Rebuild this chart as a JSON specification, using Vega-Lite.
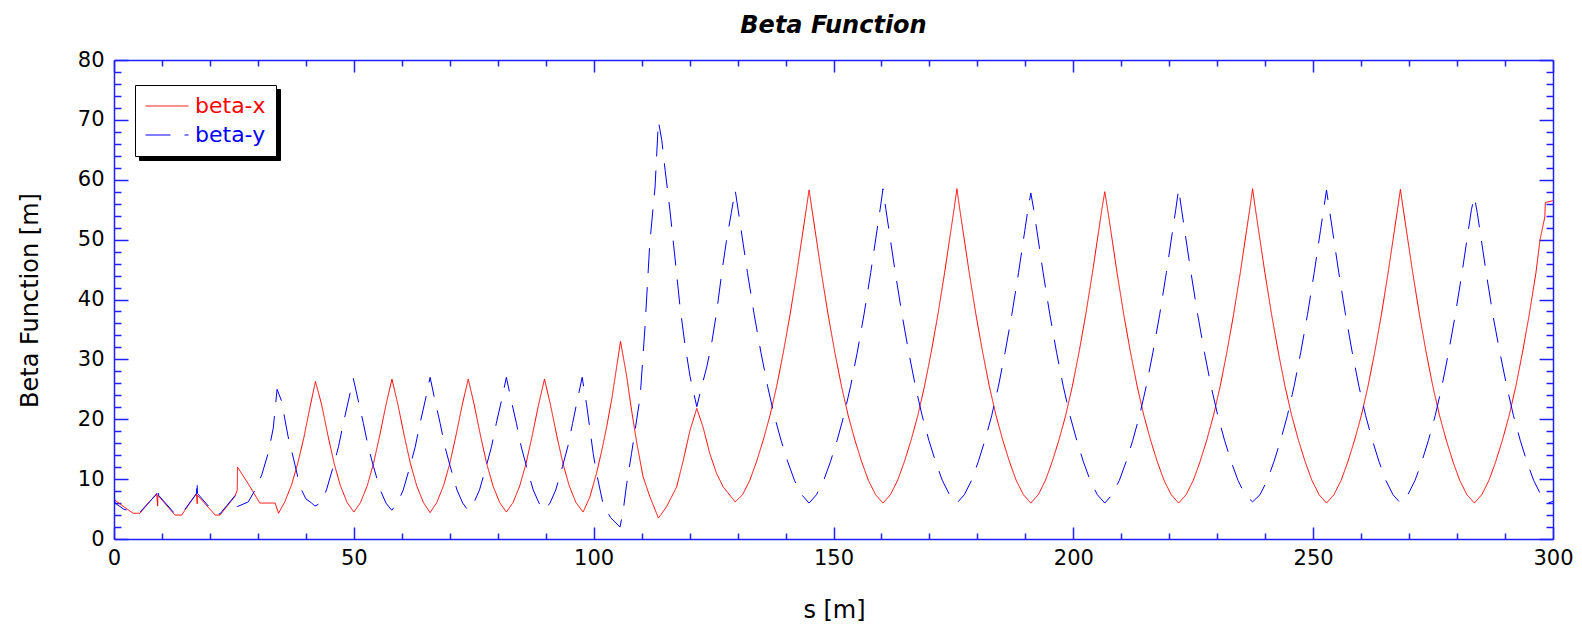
{
  "$schema": "https://vega.github.io/schema/vega-lite/v6.json",
  "width": 1439,
  "height": 479,
  "autosize": {"type": "none"},
  "padding": {"left": 114, "top": 60, "right": 29, "bottom": 88},
  "background": "white",
  "config": {
    "view": {"stroke": null},
    "font": "DejaVu Sans",
    "scale": {"continuousPadding": 0},
    "axis": {"grid": false, "labelFlush": false, "domainColor": "#2020ff", "tickColor": "#2020ff", "domainWidth": 1.5, "tickWidth": 1.5, "labelFont": "DejaVu Sans", "labelFontSize": 21, "labelColor": "#000000", "titleFont": "DejaVu Sans", "titleFontSize": 24, "titleFontWeight": "normal", "titleColor": "#000000"}
  },
  "title": {"text": "Beta Function", "font": "DejaVu Sans", "fontSize": 24, "fontWeight": "bold", "fontStyle": "italic", "color": "#000000", "anchor": "middle", "baseline": "middle", "offset": -1},
  "data": {"values": [
    {"series":"beta-x","s":0,"b":6.6},{"series":"beta-x","s":2,"b":5.4},{"series":"beta-x","s":4,"b":4.3},{"series":"beta-x","s":5.4,"b":4.3},{"series":"beta-x","s":8.9,"b":7.6},{"series":"beta-x","s":9.1,"b":5.5},{"series":"beta-x","s":9.15,"b":7.3},{"series":"beta-x","s":12.7,"b":4.0},{"series":"beta-x","s":14.1,"b":4.0},{"series":"beta-x","s":17.2,"b":7.6},{"series":"beta-x","s":17.35,"b":5.9},{"series":"beta-x","s":17.4,"b":7.3},{"series":"beta-x","s":21.1,"b":4.0},{"series":"beta-x","s":22.1,"b":4.0},{"series":"beta-x","s":25.2,"b":7.1},{"series":"beta-x","s":25.7,"b":8.2},{"series":"beta-x","s":25.75,"b":12.0},{"series":"beta-x","s":28.0,"b":9.2},{"series":"beta-x","s":30.4,"b":6.0},{"series":"beta-x","s":33.6,"b":6.0},{"series":"beta-x","s":34.3,"b":4.3},
    {"series":"beta-x","s":35.6,"b":6.2},{"series":"beta-x","s":37.0,"b":9.0},{"series":"beta-x","s":38.3,"b":12.6},{"series":"beta-x","s":39.6,"b":17.0},{"series":"beta-x","s":40.8,"b":21.8},{"series":"beta-x","s":42.0,"b":26.3},{"series":"beta-x","s":43.3,"b":22.4},{"series":"beta-x","s":44.6,"b":17.3},{"series":"beta-x","s":45.9,"b":12.6},{"series":"beta-x","s":47.2,"b":8.9},{"series":"beta-x","s":48.6,"b":6.1},{"series":"beta-x","s":50.0,"b":4.5},
    {"series":"beta-x","s":51.4,"b":6.1},{"series":"beta-x","s":52.8,"b":8.9},{"series":"beta-x","s":54.1,"b":12.6},{"series":"beta-x","s":55.4,"b":17.3},{"series":"beta-x","s":56.7,"b":22.4},{"series":"beta-x","s":57.95,"b":26.7},{"series":"beta-x","s":59.2,"b":22.4},{"series":"beta-x","s":60.5,"b":17.3},{"series":"beta-x","s":61.8,"b":12.6},{"series":"beta-x","s":63.1,"b":8.9},{"series":"beta-x","s":64.5,"b":6.1},{"series":"beta-x","s":65.9,"b":4.4},
    {"series":"beta-x","s":67.3,"b":6.1},{"series":"beta-x","s":68.7,"b":8.9},{"series":"beta-x","s":70.0,"b":12.6},{"series":"beta-x","s":71.3,"b":17.3},{"series":"beta-x","s":72.6,"b":22.4},{"series":"beta-x","s":73.85,"b":26.7},{"series":"beta-x","s":75.1,"b":22.4},{"series":"beta-x","s":76.4,"b":17.3},{"series":"beta-x","s":77.7,"b":12.6},{"series":"beta-x","s":79.0,"b":8.9},{"series":"beta-x","s":80.4,"b":6.1},{"series":"beta-x","s":81.8,"b":4.5},
    {"series":"beta-x","s":83.2,"b":6.1},{"series":"beta-x","s":84.6,"b":8.9},{"series":"beta-x","s":85.9,"b":12.6},{"series":"beta-x","s":87.2,"b":17.3},{"series":"beta-x","s":88.5,"b":22.4},{"series":"beta-x","s":89.75,"b":26.7},{"series":"beta-x","s":91.0,"b":22.4},{"series":"beta-x","s":92.3,"b":17.3},{"series":"beta-x","s":93.6,"b":12.6},{"series":"beta-x","s":94.9,"b":8.9},{"series":"beta-x","s":96.3,"b":6.1},{"series":"beta-x","s":97.8,"b":4.5},
    {"series":"beta-x","s":99.2,"b":7.0},{"series":"beta-x","s":100.6,"b":11.0},{"series":"beta-x","s":101.7,"b":14.8},{"series":"beta-x","s":102.7,"b":18.7},{"series":"beta-x","s":103.8,"b":23.5},{"series":"beta-x","s":104.8,"b":28.8},{"series":"beta-x","s":105.6,"b":33.0},{"series":"beta-x","s":106.9,"b":27.1},{"series":"beta-x","s":107.9,"b":21.5},{"series":"beta-x","s":109.0,"b":16.0},{"series":"beta-x","s":110.3,"b":10.4},{"series":"beta-x","s":111.7,"b":7.1},{"series":"beta-x","s":113.5,"b":3.5},
    {"series":"beta-x","s":115.2,"b":5.4},{"series":"beta-x","s":117.3,"b":8.7},{"series":"beta-x","s":118.7,"b":13.2},{"series":"beta-x","s":120.1,"b":18.2},{"series":"beta-x","s":121.5,"b":21.8},{"series":"beta-x","s":122.8,"b":18.7},{"series":"beta-x","s":124.2,"b":14.3},{"series":"beta-x","s":125.6,"b":11.0},{"series":"beta-x","s":127.0,"b":8.7},{"series":"beta-x","s":129.5,"b":6.2},
    {"series":"beta-x","s":131.05,"b":7.4},{"series":"beta-x","s":132.55,"b":9.8},{"series":"beta-x","s":133.95,"b":12.9},{"series":"beta-x","s":135.35,"b":16.5},{"series":"beta-x","s":136.75,"b":20.6},{"series":"beta-x","s":138.15,"b":25.5},{"series":"beta-x","s":139.55,"b":31.2},{"series":"beta-x","s":140.95,"b":37.5},{"series":"beta-x","s":142.35,"b":44.5},{"series":"beta-x","s":143.65,"b":51.5},{"series":"beta-x","s":144.3,"b":55.0},{"series":"beta-x","s":144.91,"b":58.3},
    {"series":"beta-x","s":145.52,"b":55.0},{"series":"beta-x","s":146.17,"b":51.5},{"series":"beta-x","s":147.47,"b":44.5},{"series":"beta-x","s":148.87,"b":37.5},{"series":"beta-x","s":150.27,"b":31.2},{"series":"beta-x","s":151.67,"b":25.5},{"series":"beta-x","s":153.07,"b":20.6},{"series":"beta-x","s":154.47,"b":16.5},{"series":"beta-x","s":155.87,"b":12.9},{"series":"beta-x","s":157.27,"b":9.8},{"series":"beta-x","s":158.77,"b":7.4},{"series":"beta-x","s":160.32,"b":6.0},
    {"series":"beta-x","s":161.87,"b":7.4},{"series":"beta-x","s":163.37,"b":9.8},{"series":"beta-x","s":164.77,"b":12.9},{"series":"beta-x","s":166.17,"b":16.5},{"series":"beta-x","s":167.57,"b":20.6},{"series":"beta-x","s":168.97,"b":25.5},{"series":"beta-x","s":170.37,"b":31.2},{"series":"beta-x","s":171.77,"b":37.5},{"series":"beta-x","s":173.17,"b":44.5},{"series":"beta-x","s":174.47,"b":51.5},{"series":"beta-x","s":175.12,"b":55.0},{"series":"beta-x","s":175.73,"b":58.5},
    {"series":"beta-x","s":176.34,"b":55.0},{"series":"beta-x","s":176.99,"b":51.5},{"series":"beta-x","s":178.29,"b":44.5},{"series":"beta-x","s":179.69,"b":37.5},{"series":"beta-x","s":181.09,"b":31.2},{"series":"beta-x","s":182.49,"b":25.5},{"series":"beta-x","s":183.89,"b":20.6},{"series":"beta-x","s":185.29,"b":16.5},{"series":"beta-x","s":186.69,"b":12.9},{"series":"beta-x","s":188.09,"b":9.8},{"series":"beta-x","s":189.59,"b":7.4},{"series":"beta-x","s":191.14,"b":6.0},
    {"series":"beta-x","s":192.69,"b":7.4},{"series":"beta-x","s":194.19,"b":9.8},{"series":"beta-x","s":195.59,"b":12.9},{"series":"beta-x","s":196.99,"b":16.5},{"series":"beta-x","s":198.39,"b":20.6},{"series":"beta-x","s":199.79,"b":25.5},{"series":"beta-x","s":201.19,"b":31.2},{"series":"beta-x","s":202.59,"b":37.5},{"series":"beta-x","s":203.99,"b":44.5},{"series":"beta-x","s":205.29,"b":51.5},{"series":"beta-x","s":205.94,"b":55.0},{"series":"beta-x","s":206.55,"b":58.0},
    {"series":"beta-x","s":207.16,"b":55.0},{"series":"beta-x","s":207.81,"b":51.5},{"series":"beta-x","s":209.11,"b":44.5},{"series":"beta-x","s":210.51,"b":37.5},{"series":"beta-x","s":211.91,"b":31.2},{"series":"beta-x","s":213.31,"b":25.5},{"series":"beta-x","s":214.71,"b":20.6},{"series":"beta-x","s":216.11,"b":16.5},{"series":"beta-x","s":217.51,"b":12.9},{"series":"beta-x","s":218.91,"b":9.8},{"series":"beta-x","s":220.41,"b":7.4},{"series":"beta-x","s":221.96,"b":6.0},
    {"series":"beta-x","s":223.51,"b":7.4},{"series":"beta-x","s":225.01,"b":9.8},{"series":"beta-x","s":226.41,"b":12.9},{"series":"beta-x","s":227.81,"b":16.5},{"series":"beta-x","s":229.21,"b":20.6},{"series":"beta-x","s":230.61,"b":25.5},{"series":"beta-x","s":232.01,"b":31.2},{"series":"beta-x","s":233.41,"b":37.5},{"series":"beta-x","s":234.81,"b":44.5},{"series":"beta-x","s":236.11,"b":51.5},{"series":"beta-x","s":236.76,"b":55.0},{"series":"beta-x","s":237.37,"b":58.5},
    {"series":"beta-x","s":237.98,"b":55.0},{"series":"beta-x","s":238.63,"b":51.5},{"series":"beta-x","s":239.93,"b":44.5},{"series":"beta-x","s":241.33,"b":37.5},{"series":"beta-x","s":242.73,"b":31.2},{"series":"beta-x","s":244.13,"b":25.5},{"series":"beta-x","s":245.53,"b":20.6},{"series":"beta-x","s":246.93,"b":16.5},{"series":"beta-x","s":248.33,"b":12.9},{"series":"beta-x","s":249.73,"b":9.8},{"series":"beta-x","s":251.23,"b":7.4},{"series":"beta-x","s":252.78,"b":6.0},
    {"series":"beta-x","s":254.33,"b":7.4},{"series":"beta-x","s":255.83,"b":9.8},{"series":"beta-x","s":257.23,"b":12.9},{"series":"beta-x","s":258.63,"b":16.5},{"series":"beta-x","s":260.03,"b":20.6},{"series":"beta-x","s":261.43,"b":25.5},{"series":"beta-x","s":262.83,"b":31.2},{"series":"beta-x","s":264.23,"b":37.5},{"series":"beta-x","s":265.63,"b":44.5},{"series":"beta-x","s":266.93,"b":51.5},{"series":"beta-x","s":267.58,"b":55.0},{"series":"beta-x","s":268.19,"b":58.4},
    {"series":"beta-x","s":268.8,"b":55.0},{"series":"beta-x","s":269.45,"b":51.5},{"series":"beta-x","s":270.75,"b":44.5},{"series":"beta-x","s":272.15,"b":37.5},{"series":"beta-x","s":273.55,"b":31.2},{"series":"beta-x","s":274.95,"b":25.5},{"series":"beta-x","s":276.35,"b":20.6},{"series":"beta-x","s":277.75,"b":16.5},{"series":"beta-x","s":279.15,"b":12.9},{"series":"beta-x","s":280.55,"b":9.8},{"series":"beta-x","s":282.05,"b":7.4},{"series":"beta-x","s":283.6,"b":6.0},
    {"series":"beta-x","s":285.15,"b":7.4},{"series":"beta-x","s":286.65,"b":9.8},{"series":"beta-x","s":288.05,"b":12.9},{"series":"beta-x","s":289.45,"b":16.5},{"series":"beta-x","s":290.85,"b":20.6},{"series":"beta-x","s":292.25,"b":25.5},{"series":"beta-x","s":293.65,"b":31.2},{"series":"beta-x","s":295.05,"b":37.5},{"series":"beta-x","s":296.45,"b":44.5},{"series":"beta-x","s":297.3,"b":50.0},{"series":"beta-x","s":298.3,"b":53.8},{"series":"beta-x","s":298.4,"b":56.2},{"series":"beta-x","s":300,"b":56.5},

    {"series":"beta-y","s":0,"b":7.9},{"series":"beta-y","s":0.2,"b":6.0},{"series":"beta-y","s":2.0,"b":5.0},{"series":"beta-y","s":4.0,"b":4.5},{"series":"beta-y","s":5.4,"b":4.5},{"series":"beta-y","s":8.9,"b":7.5},{"series":"beta-y","s":9.2,"b":8.8},{"series":"beta-y","s":9.3,"b":7.3},{"series":"beta-y","s":12.7,"b":4.2},{"series":"beta-y","s":14.1,"b":4.2},{"series":"beta-y","s":17.2,"b":7.6},{"series":"beta-y","s":17.3,"b":9.9},{"series":"beta-y","s":17.4,"b":7.6},{"series":"beta-y","s":21.1,"b":4.2},{"series":"beta-y","s":22.1,"b":4.2},{"series":"beta-y","s":25.5,"b":7.5},{"series":"beta-y","s":25.7,"b":5.4},
    {"series":"beta-y","s":28.0,"b":6.2},{"series":"beta-y","s":29.5,"b":8.3},{"series":"beta-y","s":30.8,"b":10.7},{"series":"beta-y","s":32.2,"b":14.5},{"series":"beta-y","s":33.2,"b":18.5},{"series":"beta-y","s":34.0,"b":25.0},{"series":"beta-y","s":35.0,"b":22.9},{"series":"beta-y","s":35.6,"b":20.1},{"series":"beta-y","s":36.3,"b":17.1},{"series":"beta-y","s":37.4,"b":13.5},{"series":"beta-y","s":38.3,"b":10.4},{"series":"beta-y","s":39.1,"b":8.2},{"series":"beta-y","s":40.0,"b":6.7},{"series":"beta-y","s":41.2,"b":6.0},{"series":"beta-y","s":41.9,"b":5.5},
    {"series":"beta-y","s":43.1,"b":6.0},{"series":"beta-y","s":44.3,"b":8.2},{"series":"beta-y","s":45.7,"b":12.1},{"series":"beta-y","s":46.8,"b":15.4},{"series":"beta-y","s":47.8,"b":19.3},{"series":"beta-y","s":48.9,"b":23.2},{"series":"beta-y","s":49.9,"b":26.8},{"series":"beta-y","s":50.9,"b":23.2},{"series":"beta-y","s":52.0,"b":19.3},{"series":"beta-y","s":53.0,"b":15.4},{"series":"beta-y","s":54.1,"b":12.1},{"series":"beta-y","s":55.5,"b":8.2},{"series":"beta-y","s":56.7,"b":6.0},{"series":"beta-y","s":57.9,"b":4.8},
    {"series":"beta-y","s":59.1,"b":6.0},{"series":"beta-y","s":60.3,"b":8.2},{"series":"beta-y","s":61.7,"b":12.1},{"series":"beta-y","s":62.8,"b":15.4},{"series":"beta-y","s":63.8,"b":19.3},{"series":"beta-y","s":64.9,"b":23.2},{"series":"beta-y","s":65.9,"b":27.0},{"series":"beta-y","s":66.9,"b":23.2},{"series":"beta-y","s":68.0,"b":19.3},{"series":"beta-y","s":69.0,"b":15.4},{"series":"beta-y","s":70.1,"b":12.1},{"series":"beta-y","s":71.5,"b":8.2},{"series":"beta-y","s":72.7,"b":6.0},{"series":"beta-y","s":73.8,"b":4.8},
    {"series":"beta-y","s":75.0,"b":6.0},{"series":"beta-y","s":76.2,"b":8.2},{"series":"beta-y","s":77.6,"b":12.1},{"series":"beta-y","s":78.7,"b":15.4},{"series":"beta-y","s":79.7,"b":19.3},{"series":"beta-y","s":80.8,"b":23.2},{"series":"beta-y","s":81.8,"b":27.0},{"series":"beta-y","s":82.8,"b":23.2},{"series":"beta-y","s":83.9,"b":19.3},{"series":"beta-y","s":84.9,"b":15.4},{"series":"beta-y","s":86.0,"b":12.1},{"series":"beta-y","s":87.4,"b":8.2},{"series":"beta-y","s":88.6,"b":6.0},{"series":"beta-y","s":89.7,"b":4.8},
    {"series":"beta-y","s":90.9,"b":6.0},{"series":"beta-y","s":92.1,"b":8.2},{"series":"beta-y","s":93.5,"b":12.1},{"series":"beta-y","s":94.6,"b":15.4},{"series":"beta-y","s":95.6,"b":19.3},{"series":"beta-y","s":96.6,"b":23.2},{"series":"beta-y","s":97.6,"b":27.0},{"series":"beta-y","s":98.5,"b":22.6},{"series":"beta-y","s":99.9,"b":14.3},{"series":"beta-y","s":100.6,"b":11.0},{"series":"beta-y","s":102.0,"b":5.7},{"series":"beta-y","s":103.5,"b":3.6},{"series":"beta-y","s":105.5,"b":2.0},
    {"series":"beta-y","s":106.2,"b":5.0},{"series":"beta-y","s":106.9,"b":9.3},{"series":"beta-y","s":107.9,"b":14.3},{"series":"beta-y","s":109.7,"b":23.8},{"series":"beta-y","s":110.7,"b":35.4},{"series":"beta-y","s":111.7,"b":49.4},{"series":"beta-y","s":112.8,"b":58.8},{"series":"beta-y","s":113.5,"b":69.8},{"series":"beta-y","s":114.2,"b":66.6},{"series":"beta-y","s":114.9,"b":61.6},{"series":"beta-y","s":115.9,"b":54.9},{"series":"beta-y","s":117.0,"b":46.6},{"series":"beta-y","s":118.0,"b":38.8},{"series":"beta-y","s":119.0,"b":32.7},{"series":"beta-y","s":120.1,"b":27.1},{"series":"beta-y","s":121.5,"b":22.1},
    {"series":"beta-y","s":122.5,"b":25.4},{"series":"beta-y","s":123.6,"b":28.8},{"series":"beta-y","s":124.6,"b":32.7},{"series":"beta-y","s":125.6,"b":37.7},{"series":"beta-y","s":126.7,"b":44.4},{"series":"beta-y","s":127.7,"b":49.9},{"series":"beta-y","s":128.7,"b":54.5},{"series":"beta-y","s":129.5,"b":58.3},
    {"series":"beta-y","s":130.11,"b":55.0},{"series":"beta-y","s":130.76,"b":51.5},{"series":"beta-y","s":132.06,"b":44.5},{"series":"beta-y","s":133.46,"b":37.5},{"series":"beta-y","s":134.86,"b":31.2},{"series":"beta-y","s":136.26,"b":25.5},{"series":"beta-y","s":137.66,"b":20.6},{"series":"beta-y","s":139.06,"b":16.5},{"series":"beta-y","s":140.46,"b":12.9},{"series":"beta-y","s":141.86,"b":9.8},{"series":"beta-y","s":143.36,"b":7.4},{"series":"beta-y","s":144.91,"b":6.0},
    {"series":"beta-y","s":146.46,"b":7.4},{"series":"beta-y","s":147.96,"b":9.8},{"series":"beta-y","s":149.36,"b":12.9},{"series":"beta-y","s":150.76,"b":16.5},{"series":"beta-y","s":152.16,"b":20.6},{"series":"beta-y","s":153.56,"b":25.5},{"series":"beta-y","s":154.96,"b":31.2},{"series":"beta-y","s":156.36,"b":37.5},{"series":"beta-y","s":157.76,"b":44.5},{"series":"beta-y","s":159.06,"b":51.5},{"series":"beta-y","s":159.71,"b":55.0},{"series":"beta-y","s":160.32,"b":58.5},
    {"series":"beta-y","s":160.93,"b":55.0},{"series":"beta-y","s":161.58,"b":51.5},{"series":"beta-y","s":162.88,"b":44.5},{"series":"beta-y","s":164.28,"b":37.5},{"series":"beta-y","s":165.68,"b":31.2},{"series":"beta-y","s":167.08,"b":25.5},{"series":"beta-y","s":168.48,"b":20.6},{"series":"beta-y","s":169.88,"b":16.5},{"series":"beta-y","s":171.28,"b":12.9},{"series":"beta-y","s":172.68,"b":9.8},{"series":"beta-y","s":174.18,"b":7.4},{"series":"beta-y","s":175.73,"b":6.0},
    {"series":"beta-y","s":177.28,"b":7.4},{"series":"beta-y","s":178.78,"b":9.8},{"series":"beta-y","s":180.18,"b":12.9},{"series":"beta-y","s":181.58,"b":16.5},{"series":"beta-y","s":182.98,"b":20.6},{"series":"beta-y","s":184.38,"b":25.5},{"series":"beta-y","s":185.78,"b":31.2},{"series":"beta-y","s":187.18,"b":37.5},{"series":"beta-y","s":188.58,"b":44.5},{"series":"beta-y","s":189.88,"b":51.5},{"series":"beta-y","s":190.53,"b":55.0},{"series":"beta-y","s":191.14,"b":57.8},
    {"series":"beta-y","s":191.75,"b":55.0},{"series":"beta-y","s":192.4,"b":51.5},{"series":"beta-y","s":193.7,"b":44.5},{"series":"beta-y","s":195.1,"b":37.5},{"series":"beta-y","s":196.5,"b":31.2},{"series":"beta-y","s":197.9,"b":25.5},{"series":"beta-y","s":199.3,"b":20.6},{"series":"beta-y","s":200.7,"b":16.5},{"series":"beta-y","s":202.1,"b":12.9},{"series":"beta-y","s":203.5,"b":9.8},{"series":"beta-y","s":205.0,"b":7.4},{"series":"beta-y","s":206.55,"b":6.0},
    {"series":"beta-y","s":208.1,"b":7.4},{"series":"beta-y","s":209.6,"b":9.8},{"series":"beta-y","s":211.0,"b":12.9},{"series":"beta-y","s":212.4,"b":16.5},{"series":"beta-y","s":213.8,"b":20.6},{"series":"beta-y","s":215.2,"b":25.5},{"series":"beta-y","s":216.6,"b":31.2},{"series":"beta-y","s":218.0,"b":37.5},{"series":"beta-y","s":219.4,"b":44.5},{"series":"beta-y","s":220.7,"b":51.5},{"series":"beta-y","s":221.35,"b":55.0},{"series":"beta-y","s":221.96,"b":58.5},
    {"series":"beta-y","s":222.57,"b":55.0},{"series":"beta-y","s":223.22,"b":51.5},{"series":"beta-y","s":224.52,"b":44.5},{"series":"beta-y","s":225.92,"b":37.5},{"series":"beta-y","s":227.32,"b":31.2},{"series":"beta-y","s":228.72,"b":25.5},{"series":"beta-y","s":230.12,"b":20.6},{"series":"beta-y","s":231.52,"b":16.5},{"series":"beta-y","s":232.92,"b":12.9},{"series":"beta-y","s":234.32,"b":9.8},{"series":"beta-y","s":235.82,"b":7.4},{"series":"beta-y","s":237.37,"b":6.2},
    {"series":"beta-y","s":238.92,"b":7.4},{"series":"beta-y","s":240.42,"b":9.8},{"series":"beta-y","s":241.82,"b":12.9},{"series":"beta-y","s":243.22,"b":16.5},{"series":"beta-y","s":244.62,"b":20.6},{"series":"beta-y","s":246.02,"b":25.5},{"series":"beta-y","s":247.42,"b":31.2},{"series":"beta-y","s":248.82,"b":37.5},{"series":"beta-y","s":250.22,"b":44.5},{"series":"beta-y","s":251.52,"b":51.5},{"series":"beta-y","s":252.17,"b":55.0},{"series":"beta-y","s":252.78,"b":58.3},
    {"series":"beta-y","s":253.39,"b":55.0},{"series":"beta-y","s":254.04,"b":51.5},{"series":"beta-y","s":255.34,"b":44.5},{"series":"beta-y","s":256.74,"b":37.5},{"series":"beta-y","s":258.14,"b":31.2},{"series":"beta-y","s":259.54,"b":25.5},{"series":"beta-y","s":260.94,"b":20.6},{"series":"beta-y","s":262.34,"b":16.5},{"series":"beta-y","s":263.74,"b":12.9},{"series":"beta-y","s":265.14,"b":9.8},{"series":"beta-y","s":266.64,"b":7.4},{"series":"beta-y","s":268.19,"b":6.0},
    {"series":"beta-y","s":269.74,"b":7.4},{"series":"beta-y","s":271.24,"b":9.8},{"series":"beta-y","s":272.64,"b":12.9},{"series":"beta-y","s":274.04,"b":16.5},{"series":"beta-y","s":275.44,"b":20.6},{"series":"beta-y","s":276.84,"b":25.5},{"series":"beta-y","s":278.24,"b":31.2},{"series":"beta-y","s":279.64,"b":37.5},{"series":"beta-y","s":281.04,"b":44.5},{"series":"beta-y","s":282.34,"b":51.5},{"series":"beta-y","s":282.99,"b":55.0},{"series":"beta-y","s":283.6,"b":57.2},
    {"series":"beta-y","s":284.21,"b":54.5},{"series":"beta-y","s":284.86,"b":51.0},{"series":"beta-y","s":286.16,"b":44.0},{"series":"beta-y","s":287.56,"b":37.0},{"series":"beta-y","s":288.96,"b":31.0},{"series":"beta-y","s":290.36,"b":25.5},{"series":"beta-y","s":291.76,"b":20.6},{"series":"beta-y","s":293.16,"b":16.5},{"series":"beta-y","s":294.56,"b":12.9},{"series":"beta-y","s":295.96,"b":9.8},{"series":"beta-y","s":297.46,"b":7.4},{"series":"beta-y","s":299.01,"b":6.0},{"series":"beta-y","s":300,"b":6.3}
  ]},
  "resolve": {"axis": {"x": "independent", "y": "independent"}},
  "layer": [
    {
      "data": {"values": [{"lab": "beta-x"}, {"lab": "beta-y"}]},
      "mark": {"type": "point", "fillOpacity": 0, "strokeOpacity": 0},
      "encoding": {
        "shape": {"field": "lab", "type": "nominal", "scale": {"range": ["stroke", "stroke"]},
                  "legend": {"orient": "none", "legendX": 25, "legendY": 29, "title": null, "fillColor": "black", "strokeColor": "black", "padding": 10, "symbolSize": 1849, "symbolStrokeColor": "black", "symbolFillColor": "black", "symbolStrokeWidth": 1, "clipHeight": 22, "labelFont": "DejaVu Sans", "labelFontSize": 22, "labelExpr": "''", "labelOffset": 77, "rowPadding": 7, "labelColor": "black", "zindex": 1}}
      }
    },
    {
      "mark": {"type": "line", "strokeWidth": 1, "clip": true},
      "encoding": {
        "x": {"field": "s", "type": "quantitative", "scale": {"domain": [0, 300], "nice": false, "zero": false, "padding": 0},
              "axis": {"orient": "bottom", "values": [0, 50, 100, 150, 200, 250, 300], "tickSize": -12, "labelPadding": 20, "labelBaseline": "top", "labelFlush": false, "labelAlign": "center", "title": "s [m]", "titleX": 720, "titleY": 71, "titleBaseline": "middle", "titleAlign": "center"}},
        "y": {"field": "b", "type": "quantitative", "scale": {"domain": [0, 80], "nice": false, "zero": false, "padding": 0},
              "axis": {"orient": "left", "values": [0, 10, 20, 30, 40, 50, 60, 70, 80], "tickSize": -14, "labelPadding": 24, "labelFlush": false, "title": "Beta Function [m]", "titleX": -84, "titleY": 240, "titleAngle": -90, "titleBaseline": "middle", "titleAlign": "center"}},
        "color": {"field": "series", "type": "nominal", "scale": {"domain": ["beta-x", "beta-y"], "range": ["#ff0000", "#0000ff"]},
                  "legend": {"orient": "none", "legendX": 21, "legendY": 25, "title": null, "fillColor": "white", "strokeColor": "black", "padding": 10, "symbolType": "stroke", "symbolSize": 1849, "symbolStrokeWidth": 1, "clipHeight": 22, "labelFont": "DejaVu Sans", "labelFontSize": 22, "labelOffset": 6, "rowPadding": 7, "zindex": 3,
                             "encode": {"labels": {"update": {"fill": {"scale": "color", "field": "value"}}}}}},
        "strokeDash": {"field": "series", "type": "nominal", "scale": {"domain": ["beta-x", "beta-y"], "range": [[1, 0], [25, 14]]}, "legend": null}
      }
    },
    {
      "mark": {"type": "line", "strokeOpacity": 0},
      "encoding": {
        "x": {"field": "s", "type": "quantitative", "axis": {"orient": "bottom", "values": [10,20,30,40,60,70,80,90,110,120,130,140,160,170,180,190,210,220,230,240,260,270,280,290], "tickSize": -6, "labels": false, "domain": false, "title": null}},
        "y": {"field": "b", "type": "quantitative", "axis": {"orient": "left", "values": [2,4,6,8,12,14,16,18,22,24,26,28,32,34,36,38,42,44,46,48,52,54,56,58,62,64,66,68,72,74,76,78], "tickSize": -7, "labels": false, "domain": false, "title": null}},
        "detail": {"field": "series"}
      }
    },
    {
      "mark": {"type": "line", "strokeOpacity": 0},
      "encoding": {
        "x": {"field": "s", "type": "quantitative", "axis": {"orient": "top", "values": [0, 50, 100, 150, 200, 250, 300], "tickSize": -12, "labels": false, "title": null}},
        "y": {"field": "b", "type": "quantitative", "axis": {"orient": "right", "values": [0, 10, 20, 30, 40, 50, 60, 70, 80], "tickSize": -14, "labels": false, "title": null}},
        "detail": {"field": "series"}
      }
    },
    {
      "mark": {"type": "line", "strokeOpacity": 0},
      "encoding": {
        "x": {"field": "s", "type": "quantitative", "axis": {"orient": "top", "values": [10,20,30,40,60,70,80,90,110,120,130,140,160,170,180,190,210,220,230,240,260,270,280,290], "tickSize": -6, "labels": false, "domain": false, "title": null}},
        "y": {"field": "b", "type": "quantitative", "axis": {"orient": "right", "values": [2,4,6,8,12,14,16,18,22,24,26,28,32,34,36,38,42,44,46,48,52,54,56,58,62,64,66,68,72,74,76,78], "tickSize": -7, "labels": false, "domain": false, "title": null}},
        "detail": {"field": "series"}
      }
    }
  ]
}
